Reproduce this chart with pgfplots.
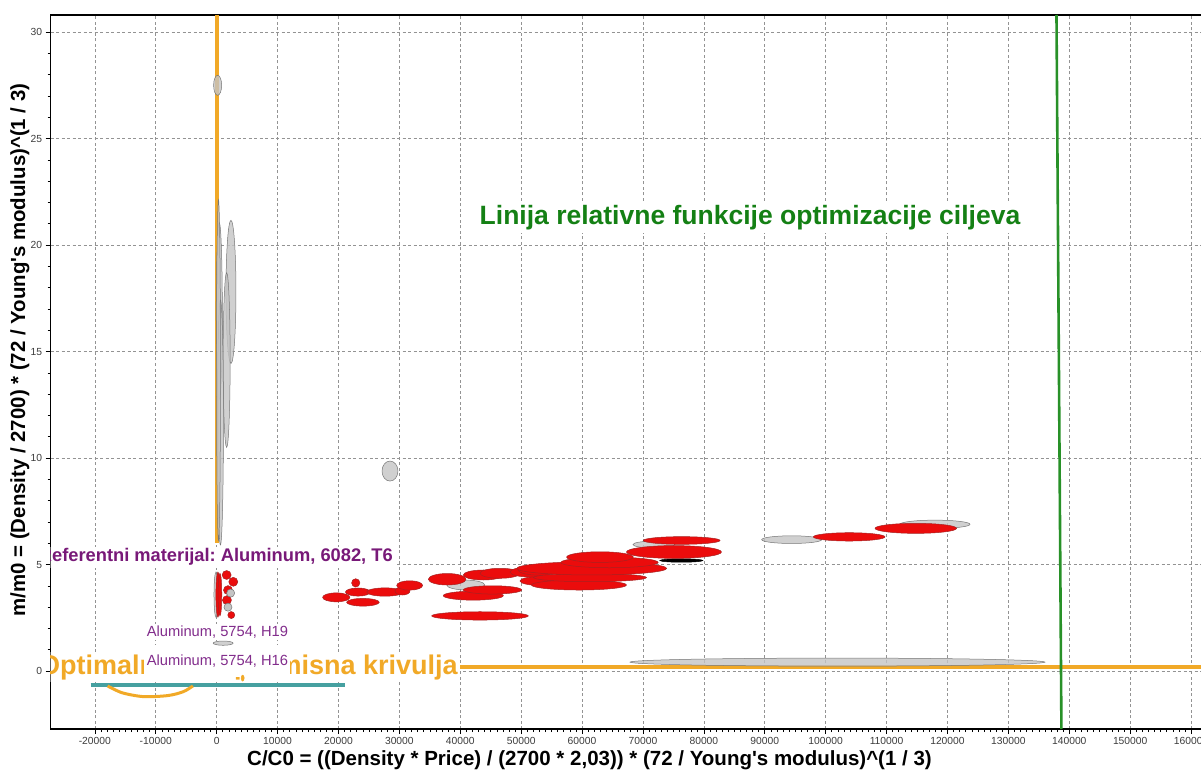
\documentclass[border=0pt]{standalone}
\usepackage{pgfplots}
\pgfplotsset{compat=1.18}
\usepackage{pgfplotstable}
\usepackage{fontspec}
\setmainfont{Liberation Sans}
\newfontfamily\lsplain{Liberation Sans}
\usetikzlibrary{calc}
\frenchspacing

\definecolor{orC}{RGB}{241,169,39}
\definecolor{grC}{RGB}{40,145,40}
\definecolor{grT}{RGB}{20,128,20}
\definecolor{purT}{RGB}{120,25,120}
\definecolor{purL}{RGB}{130,45,140}
\definecolor{tealC}{RGB}{70,160,160}
\definecolor{redF}{RGB}{235,12,12}
\definecolor{redE}{RGB}{165,35,35}
\definecolor{grayF}{RGB}{196,196,196}
\definecolor{grayE}{RGB}{118,118,118}
\definecolor{tickC}{RGB}{60,60,60}

% ellipse mark; radii given in data units, converted with
% x: 0.006090 pt per unit ; y: 21.30 pt per unit
\pgfdeclareplotmark{ell}{\pgfpathellipse{\pgfpointorigin}{\pgfpoint{\rxp}{0pt}}{\pgfpoint{0pt}{\ryp}}\pgfusepathqfillstroke}

\pgfplotsset{ellplot/.style={only marks, mark=ell, scatter,
  scatter/@pre marker code/.code={\pgfscope},
  scatter/@post marker code/.code={\endpgfscope},
  visualization depends on={\thisrow{rx}*0.006090 \as \rxp},
  visualization depends on={\thisrow{ry}*21.30 \as \ryp}}}

\pgfplotstableread{
x y rx ry
160 27.5 660 0.47
2350 17.8 820 3.36
1640 14.6 575 4.1
430 16.9 500 4.15
620 11.67 490 5.75
300 14.13 330 8.0
-110 3.59 330 1.06
28460 9.39 1310 0.47
40900 4.04 3120 0.23
71800 5.94 3450 0.16
94420 6.17 4930 0.18
117950 6.89 5750 0.195
101940 0.42 34070 0.19
1070 1.31 1640 0.10
}\grayell

\pgfplotstableread{
x y rx ry
76300 5.19 3530 0.08
}\blackell

\pgfplotstableread{
x y rx ry
19640 3.46 2245 0.21
24020 3.23 2680 0.18
23200 3.71 2050 0.19
22840 4.14 680 0.195
27640 3.71 3010 0.195
30510 3.76 1230 0.19
31690 4.02 2130 0.22
43240 2.59 7940 0.195
42140 3.54 4930 0.21
45290 3.81 4790 0.195
37850 4.31 3090 0.27
43780 4.51 3280 0.235
46520 4.59 3280 0.235
53090 4.23 3280 0.21
51450 4.65 3280 0.235
53000 4.75 3500 0.25
59490 4.04 7800 0.235
61300 4.39 9280 0.195
61580 4.82 12315 0.31
64500 5.10 8000 0.25
62940 5.35 5475 0.25
75090 5.59 7800 0.30
76350 6.13 6300 0.18
103860 6.30 5880 0.195
114800 6.70 6700 0.235
210 3.59 330 1.06
540 3.59 300 1.0
1640 4.51 740 0.21
2730 4.19 740 0.21
1860 3.80 740 0.21
1690 3.33 740 0.21
2400 2.63 575 0.165
}\redell

\pgfplotstableread{
x y rx ry
2300 3.66 660 0.19
1860 3.00 660 0.19
}\graysmall

\pgfplotstableread{
x y rx ry
4270 -0.33 250 0.14
}\ordot

\begin{document}
\begin{tikzpicture}
\begin{axis}[
  scale only axis, width=1155.6pt, height=714pt,
  xmin=-27250, xmax=162500, ymin=-2.72, ymax=30.8,
  xtick={-20000,-10000,0,10000,20000,30000,40000,50000,60000,70000,80000,90000,100000,110000,120000,130000,140000,150000,160000},
  xticklabels={-20000,-10000,0,10000,20000,30000,40000,50000,60000,70000,80000,90000,100000,110000,120000,130000,140000,150000,160000},
  ytick={0,5,10,15,20,25,30},
  yticklabels={0,5,10,15,20,25,30},
  minor x tick num=9, minor y tick num=4,
  tick pos=left, tick align=outside,
  major tick length=5pt, minor tick length=3pt,
  every tick/.style={black, line width=0.6pt},
  scaled x ticks=false,
  ticklabel style={font=\fontsize{10.3}{12}\selectfont, text=tickC},
  grid=major,
  major grid style={dash pattern=on 3pt off 2.5pt, draw=gray!85, line width=0.6pt},
  axis line style={black, line width=1.2pt},
  clip=true,
]
% Pareto (compromise) curve and objective line
\addplot[orC, line width=4.3pt] coordinates {(0,30.8) (0,6.0)};
\addplot[orC, line width=3.5pt] coordinates {(0,0.19) (162500,0.19)};
\addplot[grC, line width=2.6pt] coordinates {(137900,30.8) (138710,-2.72)};
\addplot[tealC, line width=3.5pt] coordinates {(-20700,-0.66) (21070,-0.66)};
\addplot[orC, line width=3pt, smooth] coordinates {(-17900,-0.70) (-15500,-1.02) (-12000,-1.20) (-8000,-1.15) (-5500,-0.97) (-3900,-0.70)};

% material bubbles
\addplot[ellplot, mark options={fill=grayF, draw=grayE, line width=0.5pt, fill opacity=0.8}] table[x=x,y=y] {\grayell};
\addplot[ellplot, mark options={fill=black, draw=black, line width=0.5pt}] table[x=x,y=y] {\blackell};
\addplot[ellplot, mark options={fill=redF, draw=redE, line width=0.5pt}] table[x=x,y=y] {\redell};
\addplot[ellplot, mark options={fill=grayF, draw=grayE, line width=0.5pt}] table[x=x,y=y] {\graysmall};

% annotations
\node[fill=white, inner sep=3pt, text=grT, font=\fontsize{26.5}{30}\selectfont\bfseries] at (axis cs:87570,21.27) {Linija relativne funkcije optimizacije ciljeva};
\node[fill=white, inner sep=2pt, anchor=east, text=purT, font=\fontsize{18.3}{21}\selectfont\bfseries] at (axis cs:29280,5.35) {Referentni materijal: Aluminum, 6082, T6};
\node[fill=white, inner sep=2pt, anchor=east, text=orC, font=\fontsize{27}{30}\selectfont\bfseries] at (axis cs:39950,0.19) {Optimalna kompromisna krivulja};
\node[fill=white, inner sep=1.5pt, text=purL, font=\fontsize{14.7}{17}\selectfont] at (axis cs:130,1.83) {Aluminum, 5754, H19};
\node[fill=white, inner sep=1.5pt, minimum height=32pt, minimum width=146pt, text=purL, font=\fontsize{14.7}{17}\selectfont] at (axis cs:130,0.46) {Aluminum, 5754, H16};
\addplot[ellplot, mark options={fill=orC, draw=orC, line width=0.5pt}] table[x=x,y=y] {\ordot};
\end{axis}
\node[font=\fontsize{20.5}{24}\selectfont\bfseries] at ($(current axis.south west)+(538.8pt,-31pt)$) {C/C0 = ((Density * Price) / (2700 * 2,03)) * (72 / Young{\lsplain'}s modulus)\textasciicircum(1 / 3)};
\node[rotate=90, font=\fontsize{20.4}{24}\selectfont\bfseries] at ($(current axis.south west)+(-30.7pt,379pt)$) {m/m0 = (Density / 2700) * (72 / Young{\lsplain'}s modulus)\textasciicircum(1 / 3)};
\pgfresetboundingbox
\path[use as bounding box] ($(current axis.south west)+(-50.7pt,-40pt)$) rectangle ++(1201pt,769pt);
\end{tikzpicture}
\end{document}
